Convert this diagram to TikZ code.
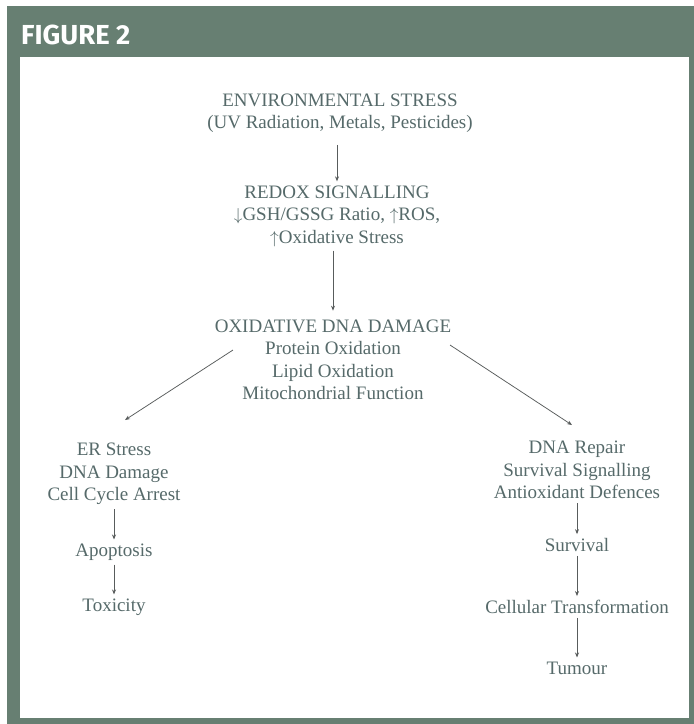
\documentclass[tikz,border=0pt]{standalone}
\usepackage{fontspec}
\setmainfont{Liberation Serif}
\newfontfamily\headfont{Fira Sans}
\usepackage{tikz}
\usetikzlibrary{
    arrows.meta,
    positioning
}
\definecolor{Cframe}{RGB}{103, 127, 114}
\definecolor{Ctext}{RGB}{86, 106, 106}
\definecolor{Carrow}{RGB}{88, 92, 92}
\tikzset{
    stxt/.style={
        align=center, font=\fontsize{19}{22.5}\selectfont,
        text=Ctext, inner sep=4pt
    },
    figlabel/.style={
        font=\headfont\bfseries\fontsize{27.5}{30}\selectfont,
        text=white, inner sep=0pt
    },
    sarr/.style={-{Stealth[length=5pt, width=4pt]}, line width=0.75pt, Carrow},
}

\begin{document}
\begin{tikzpicture}[x=1pt, y=-1pt, on grid]

    % -- frame --------------------------------------------------
    \useasboundingbox (0,0) rectangle (694,724);
    \fill [Cframe] (7,6) rectangle (694,724);
    \fill [white] (20,57) rectangle (689,718);
    \node [figlabel, anchor=base west] (fig) at (21,44) {FIGURE 2};

    % -- main chain ---------------------------------------------
    \node [stxt] (env) at (340,113)
        {ENVIRONMENTAL STRESS \\ (UV Radiation, Metals, Pesticides)};
    \node [stxt, below left=103pt and 3pt of env]
        (redox) {REDOX SIGNALLING \\ $\downarrow$GSH/GSSG Ratio, $\uparrow$ROS, \\ $\uparrow$Oxidative Stress};
    \node [stxt, below left=144pt and 4pt of redox]
        (oxid) {OXIDATIVE DNA DAMAGE \\ Protein Oxidation \\ Lipid Oxidation \\ Mitochondrial Function};

    % -- left branch --------------------------------------------
    \node [stxt, below left=114pt and 219pt of oxid]
        (stress) {ER Stress \\ DNA Damage \\ Cell Cycle Arrest};
    \node [stxt, below=78pt of stress] (apop) {Apoptosis};
    \node [stxt, below=55pt of apop] (tox) {Toxicity};

    % -- right branch -------------------------------------------
    \node [stxt, below right=110pt and 244pt of oxid]
        (repair) {DNA Repair \\ Survival Signalling \\ Antioxidant Defences};
    \node [stxt, below=75pt of repair] (surv) {Survival};
    \node [stxt, below=62pt of surv] (trans) {Cellular Transformation};
    \node [stxt, below=61pt of trans] (tum) {Tumour};

    % -- arrows -------------------------------------------------
    \draw [sarr, shorten <=8pt] (redox.north |- env.south) -- (redox.north);
    \draw [sarr, shorten >=5pt] (oxid.north |- redox.south) -- (oxid.north);
    \draw [sarr] ([shift={(-100,-10)}]oxid.center) -- ([shift={(11,-54)}]stress.center);
    \draw [sarr] ([shift={(117,-15)}]oxid.center) -- ([shift={(-5,-45)}]repair.center);
    \draw [sarr] (stress) -- (apop);
    \draw [sarr] (apop) -- (tox);
    \draw [sarr] (repair) -- (surv);
    \draw [sarr] (surv) -- (trans);
    \draw [sarr] (trans) -- (tum);

\end{tikzpicture}
\end{document}
